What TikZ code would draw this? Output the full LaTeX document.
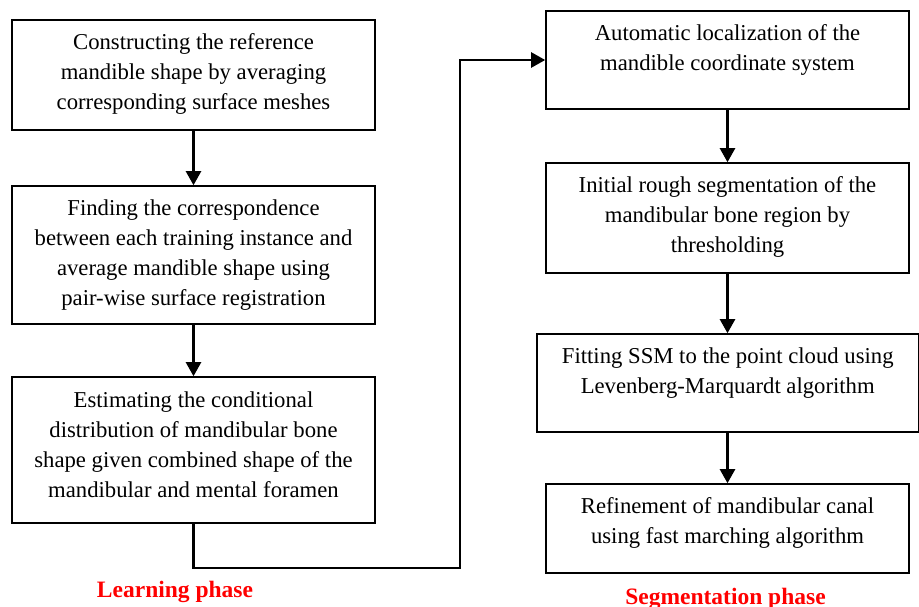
\documentclass[tikz,border=0pt]{standalone}
\usepackage{fontspec}
\setmainfont{Liberation Serif}
\usetikzlibrary{arrows.meta}
\tikzset{
  box/.style={draw, line width=1.6pt, minimum width=363pt, inner sep=0pt},
  txt/.style={align=center, inner sep=0pt, font=\fontsize{22.7}{30}\selectfont},
  flow/.style={line width=2.4pt, -{Triangle[width=15pt,length=14pt]}},
  phase/.style={text=red, font=\fontsize{23.5}{28}\selectfont\bfseries, inner sep=0pt, anchor=base}
}
\begin{document}
\begin{tikzpicture}[x=1pt,y=-1pt]
\useasboundingbox (0,0) rectangle (919,606);
% left column
\node[box, minimum height=110pt] (b1) at (193.5,75) {};
\node[txt] (t1) at ([yshift=1pt]b1.center) {Constructing the reference\\mandible shape by averaging\\corresponding surface meshes};
\node[box, minimum height=138pt] (b2) at (193.5,255) {};
\node[txt] (t2) at (b2.center) {Finding the correspondence\\between each training instance and\\average mandible shape using\\pair-wise surface registration};
\node[box, minimum height=146pt] (b3) at (193.5,450) {};
\node[txt] (t3) at ([yshift=5pt]b3.center) {Estimating the conditional\\distribution of mandibular bone\\shape given combined shape of the\\mandibular and mental foramen};
% right column
\node[box, minimum height=98pt] (b4) at (727.5,60) {};
\node[txt] (t4) at ([yshift=10pt]b4.center) {Automatic localization of the\\mandible coordinate system};
\node[box, minimum height=110pt] (b5) at (727.5,218) {};
\node[txt] (t5) at ([yshift=1pt]b5.center) {Initial rough segmentation of the\\mandibular bone region by\\thresholding};
\node[box, minimum height=98pt, minimum width=381.5pt] (b6) at (727.75,383) {};
\node[txt] (t6) at ([yshift=10pt]b6.center) {Fitting SSM to the point cloud using\\Levenberg-Marquardt algorithm};
\node[box, minimum height=89pt] (b7) at (727.5,528.5) {};
\node[txt] (t7) at ([yshift=5.5pt]b7.center) {Refinement of mandibular canal\\using fast marching algorithm};
% connectors
\draw[flow] (b1.south) -- (b2.north);
\draw[flow] (b2.south) -- (b3.north);
\coordinate (c1) at (460,568);
\draw[flow] (b3.south) |- (c1) |- (b4.west);
\draw[flow] (b4.south) -- (b5.north);
\draw[flow] (b5.south) -- (b5.south |- b6.north);
\draw[flow] (b6.south -| b7.north) -- (b7.north);
% labels
\node[phase] (l1) at (175,597) {Learning phase};
\node[phase] (l2) at (725.5,604) {Segmentation phase};
\end{tikzpicture}
\end{document}
